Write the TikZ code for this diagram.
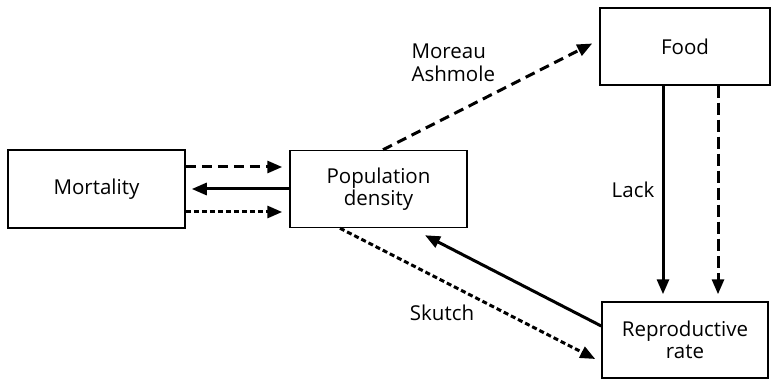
\documentclass[tikz,border=0pt]{standalone}
\usepackage{fontspec}
\setmainfont{Open Sans}
\usetikzlibrary{arrows.meta}
\begin{document}
\begin{tikzpicture}[x=1pt,y=-1pt,
  box/.style={draw,line width=1.5pt,inner sep=0pt,font=\fontsize{20.5}{22}\selectfont,align=center},
  lbl/.style={font=\fontsize{20.5}{23}\selectfont,align=left},
  arr/.style={line width=3pt,-{Triangle[length=15pt,width=12pt]}},
  longdash/.style={dash pattern=on 10pt off 6pt},
  shortdash/.style={dash pattern=on 5pt off 3pt}]
\useasboundingbox (0,0) rectangle (771,382);
\node[box,minimum width=177pt,minimum height=78pt] (mort) at (96.5,189) {Mortality};
\node[box,minimum width=177pt,minimum height=77pt] (pop) at (378.5,189) {Population\\density};
\node[box,minimum width=170pt,minimum height=77pt] (food) at (685,46.5) {Food};
\node[box,minimum width=166pt,minimum height=76pt] (rep) at (685,340) {Reproductive\\rate};
% Mortality <-> Population
\draw[arr,longdash] ([yshift=22pt]mort.east) -- ([yshift=22pt,xshift=-7pt]pop.west);
\draw[arr] (pop.west) -- ([xshift=6pt]mort.east);
\draw[arr,shortdash] ([yshift=-23pt]mort.east) -- ([yshift=-23pt,xshift=-7pt]pop.west);
% Population -> Food
\draw[arr,longdash] ([xshift=4.5pt]pop.north) -- ([xshift=-7pt,yshift=3pt]food.west);
\node[lbl,anchor=west] (ma) at (408,63) {Moreau\\Ashmole};
% Food -> Reproductive
\draw[arr] ([xshift=-22pt]food.south) -- ([xshift=-22pt,yshift=7pt]rep.north);
\draw[arr,dash pattern=on 12pt off 5pt] ([xshift=33pt]food.south) -- ([xshift=33pt,yshift=7pt]rep.north);
\node[lbl] (lack) at (633,190) {Lack};
% Reproductive -> Population
\draw[arr] ([yshift=14pt]rep.west) -- ([xshift=46.5pt,yshift=-7pt]pop.south);
\draw[arr,shortdash] ([xshift=-38.5pt]pop.south) -- ([xshift=-6pt,yshift=-19pt]rep.west);
\node[lbl] (sk) at (442,313) {Skutch};
\end{tikzpicture}
\end{document}
